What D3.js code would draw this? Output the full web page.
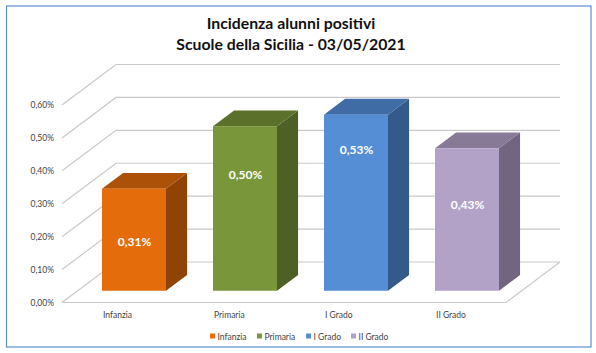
<!DOCTYPE html>
<html>
<head>
<meta charset="utf-8">
<script src="https://cdnjs.cloudflare.com/ajax/libs/d3/7.8.5/d3.min.js"></script>
<style>
  html, body { margin: 0; padding: 0; background: #fff; }
  svg { display: block; }
  text { font-family: Lato, "Open Sans", sans-serif; }
</style>
</head>
<body>
<svg width="596" height="353"></svg>
<script>
const titleLines = ['Incidenza alunni positivi', 'Scuole della Sicilia - 03/05/2021'];
const categories = ['Infanzia', 'Primaria', 'I Grado', 'II Grado'];
const values = [0.0031, 0.0050, 0.00535, 0.00433];
const valueLabels = ['0,31%', '0,50%', '0,53%', '0,43%'];
// height on the value axis where each label sits (not centred in the original)
const labelLevels = [0.00150, 0.00354, 0.00429, 0.00263];
const yTicks = [0, 0.001, 0.002, 0.003, 0.004, 0.005, 0.006];
const frontColors = ['#e46c0a', '#7a963a', '#558ed5', '#b3a2c7'];
const topColors = ['#ab5208', '#5b702b', '#3f6ca5', '#867a97'];
const sideColors = ['#8f4406', '#4e6025', '#335a8a', '#716580'];

const svg = d3.select('svg');
const pct = d => d3.format('.2f')(d * 100).replace('.', ',') + '%';

// frame
svg.append('rect')
    .attr('x', 6.5).attr('y', 6)
    .attr('width', 584.5).attr('height', 341)
    .attr('fill', '#fff')
    .attr('stroke', '#5b8fd0')
    .attr('stroke-width', 1.2);

// title
svg.selectAll('.title')
    .data(titleLines)
    .join('text')
    .attr('class', 'title')
    .attr('x', 291)
    .attr('y', (d, i) => 29 + i * 20.5)
    .attr('text-anchor', 'middle')
    .attr('font-size', 15.8)
    .attr('font-weight', 700)
    .attr('fill', '#111')
    .text(d => d);

/* Scales */
const yScale = d3.scaleLinear().domain([0, 0.006]).range([302.5, 105]);
const xScale = d3.scaleLinear().domain([0, 1]).range([62, 506]);
const depthX = d3.scaleLinear().domain([0, 1]).range([0, 54]);
const depthY = d3.scaleLinear().domain([0, 1]).range([0, -40.5]);
const band = d3.scaleBand().domain(categories).range([78.5, 522.5]).paddingInner(47 / 111).paddingOuter(23.5 / 111);

const barFront = 0.29;
const barBack = 0.68;
const px = (x, depth) => x + depthX(depth);
const py = (v, depth) => yScale(v) + depthY(depth);

// gridlines: side wall then back wall
const grid = svg.append('g').attr('fill', 'none').attr('stroke', '#c9c9c9').attr('stroke-width', 1.2);
grid.selectAll('path')
    .data(yTicks)
    .join('path')
    .attr('d', d => d3.line()([
        [xScale(0), py(d, 0)],
        [px(xScale(0), 1), py(d, 1)],
        [px(xScale(1), 1), py(d, 1)]
    ]));

// floor
grid.append('path')
    .attr('d', d3.line()([
        [xScale(0), py(0, 0)],
        [xScale(1), py(0, 0)],
        [px(xScale(1), 1), py(0, 1)]
    ]));

/* Bars */
const poly = pts => d3.line()(pts) + 'Z';
const bars = svg.selectAll('.bar')
    .data(categories)
    .join('g')
    .attr('class', 'bar');

bars.append('path')
    .attr('fill', (d, i) => sideColors[i])
    .attr('d', (d, i) => {
        const x1 = band(d) + band.bandwidth();
        const dx = depthX(barBack - barFront);
        return poly([
            [x1, py(values[i], barFront)],
            [x1 + dx, py(values[i], barBack)],
            [x1 + dx, py(0, barBack)],
            [x1, py(0, barFront)]
        ]);
    });

bars.append('path')
    .attr('fill', (d, i) => topColors[i])
    .attr('d', (d, i) => {
        const x0 = band(d);
        const x1 = x0 + band.bandwidth();
        const dx = depthX(barBack - barFront);
        return poly([
            [x0, py(values[i], barFront)],
            [x0 + dx, py(values[i], barBack)],
            [x1 + dx, py(values[i], barBack)],
            [x1, py(values[i], barFront)]
        ]);
    });

bars.append('rect')
    .attr('fill', (d, i) => frontColors[i])
    .attr('x', d => band(d))
    .attr('width', band.bandwidth())
    .attr('y', (d, i) => py(values[i], barFront))
    .attr('height', (d, i) => py(0, barFront) - py(values[i], barFront));

bars.append('text')
    .attr('x', d => band(d) + band.bandwidth() / 2 + 0.5)
    .attr('y', (d, i) => py(labelLevels[i], barFront) + 4.5)
    .attr('text-anchor', 'middle')
    .attr('font-size', 12)
    .attr('font-weight', 700)
    .attr('fill', '#fff')
    .text((d, i) => valueLabels[i]);

/* Axes */
const yAxis = svg.append('g')
    .attr('transform', 'translate(54,0)')
    .call(d3.axisLeft(yScale).tickValues(yTicks).tickFormat(pct).tickSize(0).tickPadding(0));
yAxis.select('.domain').remove();
yAxis.selectAll('text').attr('font-size', 8.5).attr('fill', '#444').style('font-family', 'Lato, sans-serif');

const xAxis = svg.append('g')
    .attr('transform', 'translate(1,312)')
    .call(d3.axisBottom(band).tickSize(0).tickPadding(0));
xAxis.select('.domain').remove();
xAxis.selectAll('.tick').attr('transform', d => `translate(${band(d)},0)`);
xAxis.selectAll('text')
    .attr('text-anchor', 'start')
    .attr('font-size', 8.5)
    .attr('fill', '#444')
    .style('font-family', 'Lato, sans-serif');

/* Legend */
const legendX = [210, 257, 306, 351];
const legend = svg.selectAll('.legend')
    .data(categories)
    .join('g')
    .attr('class', 'legend')
    .attr('transform', (d, i) => `translate(${legendX[i]},338)`);
legend.append('rect')
    .attr('y', -4.5)
    .attr('width', 5)
    .attr('height', 5)
    .attr('fill', (d, i) => frontColors[i]);
legend.append('text')
    .attr('x', 7.5)
    .attr('y', 1.5)
    .attr('font-size', 8.5)
    .attr('fill', '#444')
    .text(d => d);
</script>
</body>
</html>
